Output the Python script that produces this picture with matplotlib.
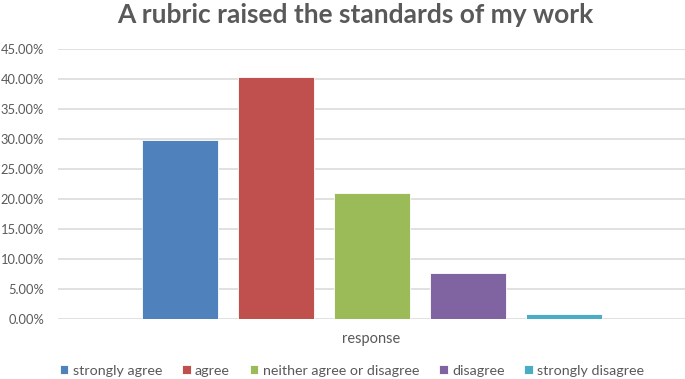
import numpy as np
import matplotlib
matplotlib.use('Agg')
import matplotlib.pyplot as plt
from matplotlib.ticker import PercentFormatter

# data
labels = ['strongly agree', 'agree', 'neither agree or disagree', 'disagree', 'strongly disagree']
values = [29.8, 40.4, 21.1, 7.7, 0.9]
colors = ['#4F81BD', '#C0504D', '#9BBB59', '#8064A2', '#4BACC6']
yticks = np.arange(0, 46, 5)

plt.rcParams['font.family'] = ['Lato', 'DejaVu Sans']
text_color = '#595959'

fig = plt.figure(figsize=(6.85, 3.79), dpi=100)
ax = fig.add_axes([58 / 685, 1 - 319.3 / 379, 627 / 685, (319.3 - 49) / 379])

# one category, five series side by side
bar_w = 76 / 627
step = 96 / 627
for i, (lab, val, col) in enumerate(zip(labels, values, colors)):
    ax.bar((i - 2) * step, val, width=bar_w, color=col, edgecolor='white',
           linewidth=0.6, label=lab, zorder=3)

ax.set_xlim(-0.5, 0.5)
ax.set_ylim(0, 45)
ax.set_yticks(yticks)
ax.yaxis.set_major_formatter(PercentFormatter(decimals=2))
ax.set_xticks([])
ax.grid(axis='y', color='#D9D9D9', linewidth=1.1, zorder=0)
for s in ax.spines.values():
    s.set_visible(False)
ax.tick_params(axis='y', length=0, pad=10, labelsize=9.3, labelcolor=text_color)

ax.set_xlabel('response', fontsize=10.5, color=text_color, labelpad=9)

fig.text(355 / 685, 1 - 15 / 379, 'A rubric raised the standards of my work',
         ha='center', va='center', fontsize=19, fontweight='bold', color=text_color)

fig.legend(loc='center', bbox_to_anchor=(352 / 685, 1 - 371 / 379), ncol=5,
           frameon=False, fontsize=10.3, handlelength=0.6, handleheight=0.6,
           handletextpad=0.3, columnspacing=1.4, labelcolor=text_color)

fig.savefig('out.png', dpi=100)
